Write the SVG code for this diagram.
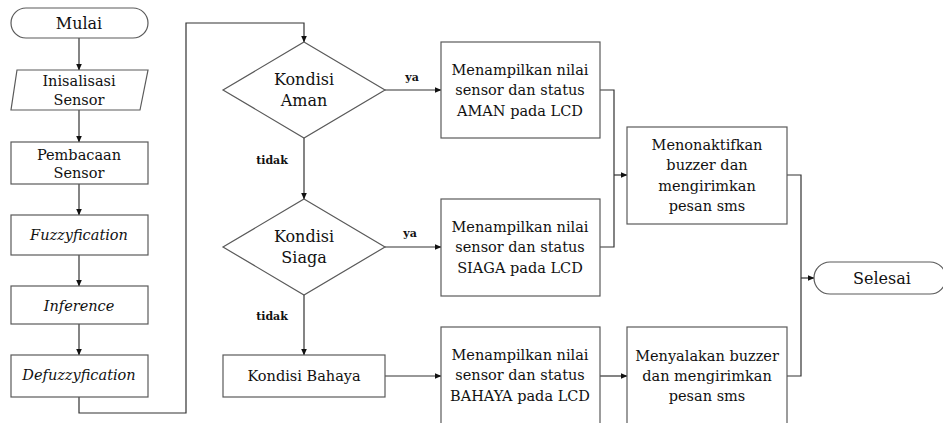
<svg xmlns="http://www.w3.org/2000/svg" width="943" height="423" viewBox="0 0 943 423">
<defs>
<marker id="ah" markerWidth="7" markerHeight="6" refX="6.5" refY="3" orient="auto" markerUnits="userSpaceOnUse">
<path d="M0,0 L7,3 L0,6 Z" fill="#111"/>
</marker>
<style>
.shape{fill:#fff;stroke:#5a5a5a;stroke-width:1.2}
.conn{fill:none;stroke:#333;stroke-width:1.2}
.arr{marker-end:url(#ah)}
text{font-family:"DejaVu Serif","Liberation Serif",serif;fill:#111;text-anchor:middle}
.t{font-size:14.5px}
.big{font-size:16px}
.it{font-size:14.5px;font-style:italic}
.lbl{font-size:11px;font-weight:bold}
</style>
</defs>
<rect width="943" height="423" fill="#fff"/>
<g id="connectors">
<line class="conn arr" x1="79" y1="38" x2="79" y2="70"/>
<line class="conn arr" x1="79" y1="110" x2="79" y2="142"/>
<line class="conn arr" x1="79" y1="184" x2="79" y2="215"/>
<line class="conn arr" x1="79" y1="255" x2="79" y2="286"/>
<line class="conn arr" x1="79" y1="324" x2="79" y2="355"/>
<polyline class="conn arr" points="79,397 79,413 186,413 186,23 304,23 304,42"/>
<line class="conn arr" x1="385" y1="90" x2="441" y2="90"/>
<line class="conn arr" x1="304" y1="138" x2="304" y2="199"/>
<line class="conn arr" x1="385" y1="247" x2="441" y2="247"/>
<line class="conn arr" x1="304" y1="295" x2="304" y2="355"/>
<line class="conn arr" x1="385" y1="376" x2="441" y2="376"/>
<polyline class="conn" points="600,90 614,90 614,247 600,247"/>
<line class="conn arr" x1="614" y1="175" x2="627" y2="175"/>
<line class="conn arr" x1="600" y1="376" x2="627" y2="376"/>
<polyline class="conn" points="787,175 801,175 801,376 787,376"/>
<line class="conn arr" x1="801" y1="278" x2="814" y2="278"/>
<text class="lbl" x="412" y="81">ya</text>
<text class="lbl" x="410" y="237">ya</text>
<text class="lbl" x="272" y="164">tidak</text>
<text class="lbl" x="272" y="320">tidak</text>
</g>
<g id="mulai">
<rect class="shape" x="11" y="8" width="137" height="30" rx="15"/>
<text class="big" x="79" y="29">Mulai</text>
</g>
<g id="inisialisasi">
<polygon class="shape" points="17,70 148,70 140,110 11,110"/>
<text class="t" x="79" y="86">Inisalisasi</text>
<text class="t" x="79" y="105">Sensor</text>
</g>
<g id="pembacaan">
<rect class="shape" x="11" y="142" width="137" height="42"/>
<text class="t" x="79" y="160">Pembacaan</text>
<text class="t" x="79" y="178">Sensor</text>
</g>
<g id="fuzzyfication">
<rect class="shape" x="11" y="215" width="137" height="40"/>
<text class="it" x="79" y="240">Fuzzyfication</text>
</g>
<g id="inference">
<rect class="shape" x="11" y="286" width="137" height="38"/>
<text class="it" x="79" y="311">Inference</text>
</g>
<g id="defuzzyfication">
<rect class="shape" x="11" y="355" width="137" height="42"/>
<text class="it" x="79" y="380">Defuzzyfication</text>
</g>
<g id="kondisi-aman">
<polygon class="shape" points="304,42 385,90 304,138 223,90"/>
<text class="big" x="304" y="85">Kondisi</text>
<text class="big" x="304" y="106">Aman</text>
</g>
<g id="kondisi-siaga">
<polygon class="shape" points="304,199 385,247 304,295 223,247"/>
<text class="big" x="304" y="242">Kondisi</text>
<text class="big" x="304" y="263">Siaga</text>
</g>
<g id="kondisi-bahaya">
<rect class="shape" x="223" y="355" width="162" height="42"/>
<text class="t" x="304" y="381">Kondisi Bahaya</text>
</g>
<g id="lcd-aman">
<rect class="shape" x="441" y="42" width="159" height="96"/>
<text class="t" x="520" y="75">Menampilkan nilai</text>
<text class="t" x="520" y="95">sensor dan status</text>
<text class="t" x="520" y="116">AMAN pada LCD</text>
</g>
<g id="lcd-siaga">
<rect class="shape" x="441" y="199" width="159" height="97"/>
<text class="t" x="520" y="232">Menampilkan nilai</text>
<text class="t" x="520" y="252">sensor dan status</text>
<text class="t" x="520" y="273">SIAGA pada LCD</text>
</g>
<g id="lcd-bahaya">
<rect class="shape" x="441" y="327" width="159" height="105"/>
<text class="t" x="520" y="360">Menampilkan nilai</text>
<text class="t" x="520" y="380">sensor dan status</text>
<text class="t" x="520" y="401">BAHAYA pada LCD</text>
</g>
<g id="menonaktifkan">
<rect class="shape" x="627" y="127" width="160" height="97"/>
<text class="t" x="707" y="150">Menonaktifkan</text>
<text class="t" x="707" y="170">buzzer dan</text>
<text class="t" x="707" y="191">mengirimkan</text>
<text class="t" x="707" y="211">pesan sms</text>
</g>
<g id="menyalakan">
<rect class="shape" x="627" y="327" width="160" height="105"/>
<text class="t" x="707" y="361">Menyalakan buzzer</text>
<text class="t" x="707" y="381">dan mengirimkan</text>
<text class="t" x="707" y="401">pesan sms</text>
</g>
<g id="selesai">
<rect class="shape" x="814" y="262" width="132" height="32" rx="16"/>
<text class="big" x="882" y="284">Selesai</text>
</g>
</svg>
